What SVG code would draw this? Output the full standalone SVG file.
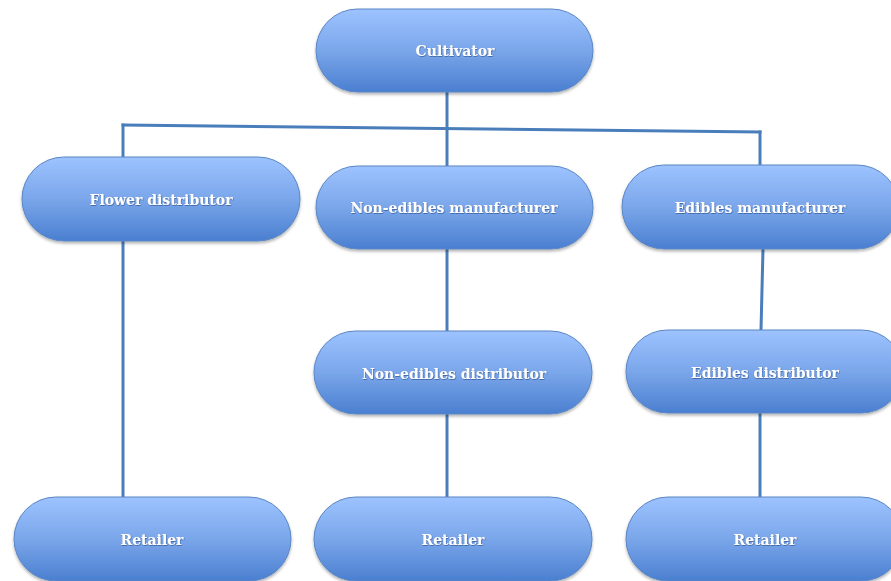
<svg xmlns="http://www.w3.org/2000/svg" width="891" height="581" viewBox="0 0 891 581">
<defs>
<linearGradient id="g" x1="0" y1="0" x2="0" y2="1">
<stop offset="0" stop-color="#9dc3ff"/>
<stop offset="0.5" stop-color="#7aa6ea"/>
<stop offset="1" stop-color="#4a7fd0"/>
</linearGradient>
<filter id="sh" x="-10%" y="-10%" width="120%" height="130%">
<feDropShadow dx="0" dy="2" stdDeviation="1.5" flood-color="#000" flood-opacity="0.3"/>
</filter>
<filter id="ts" x="-5%" y="-20%" width="110%" height="140%">
<feDropShadow dx="0.5" dy="0.8" stdDeviation="0.4" flood-color="#2a4f86" flood-opacity="0.8"/>
</filter>
</defs>
<style>
.n rect{fill:url(#g);stroke:#5a86c4;stroke-width:1;filter:url(#sh)}
.n text{fill:#fff;font-family:"DejaVu Serif","Liberation Serif",serif;font-weight:bold;font-size:14px;text-anchor:middle;filter:url(#ts)}
.c line{stroke:#4a7ebb;stroke-width:3;stroke-linecap:square}
</style>
<rect width="891" height="581" fill="#fff"/>
<g class="c" id="connectors">
<line x1="447" y1="92" x2="447" y2="166"/>
<line x1="123" y1="125" x2="760" y2="132"/>
<line x1="123" y1="125" x2="123" y2="157"/>
<line x1="760" y1="132" x2="760" y2="165"/>
<line x1="123" y1="241" x2="123" y2="497"/>
<line x1="447" y1="249" x2="447" y2="331"/>
<line x1="447" y1="414" x2="447" y2="497"/>
<line x1="763" y1="249" x2="761" y2="330"/>
<line x1="760" y1="413" x2="760" y2="497"/>
</g>
<g class="n" id="cultivator"><rect x="316" y="9" width="277" height="83" rx="41.5"/><text x="455" y="56">Cultivator</text></g>
<g class="n" id="flower-distributor"><rect x="22" y="157" width="278" height="84" rx="42"/><text x="161" y="205">Flower distributor</text></g>
<g class="n" id="nonedibles-manufacturer"><rect x="316" y="166" width="277" height="83" rx="41.5"/><text x="454" y="213">Non-edibles manufacturer</text></g>
<g class="n" id="edibles-manufacturer"><rect x="622" y="165" width="277" height="84" rx="42"/><text x="760" y="213">Edibles manufacturer</text></g>
<g class="n" id="nonedibles-distributor"><rect x="314" y="331" width="278" height="83" rx="41.5"/><text x="454" y="379">Non-edibles distributor</text></g>
<g class="n" id="edibles-distributor"><rect x="626" y="330" width="277" height="83" rx="41.5"/><text x="765" y="378">Edibles distributor</text></g>
<g class="n" id="retailer-1"><rect x="14" y="497" width="277" height="84" rx="42"/><text x="152" y="545">Retailer</text></g>
<g class="n" id="retailer-2"><rect x="314" y="497" width="278" height="84" rx="42"/><text x="453" y="545">Retailer</text></g>
<g class="n" id="retailer-3"><rect x="626" y="497" width="277" height="84" rx="42"/><text x="765" y="545">Retailer</text></g>
</svg>
